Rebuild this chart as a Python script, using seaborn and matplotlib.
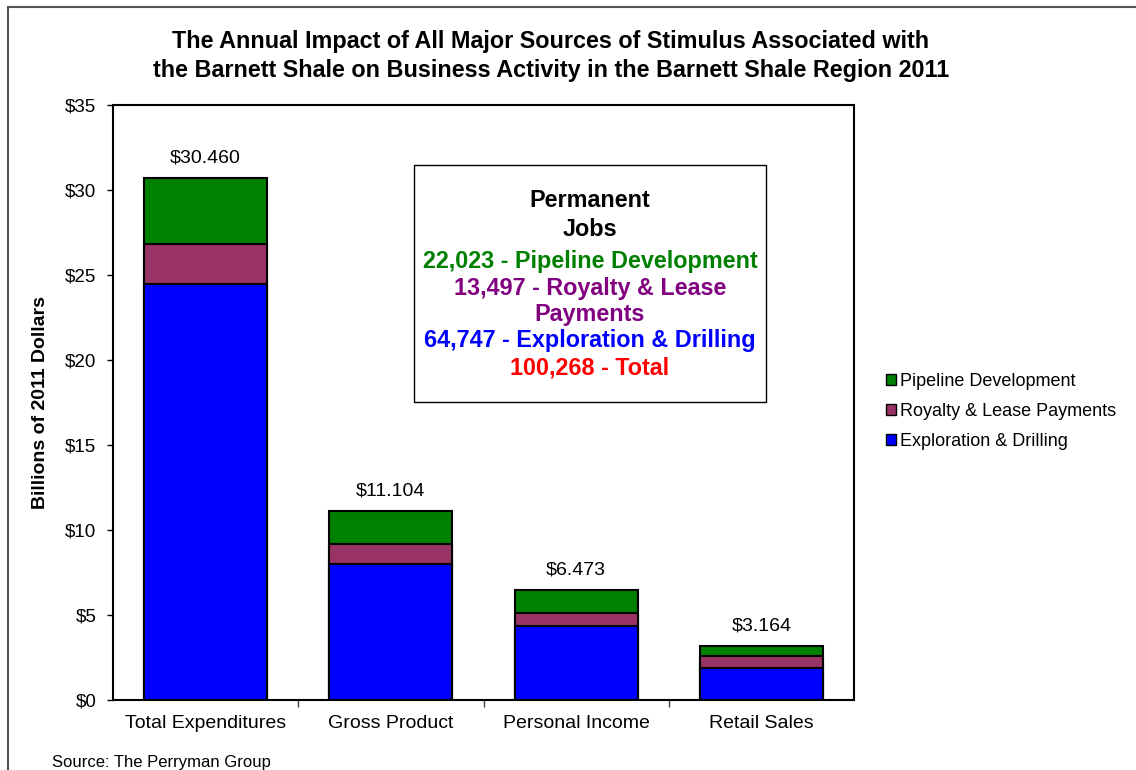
import matplotlib
matplotlib.use("Agg")
import matplotlib.pyplot as plt
import seaborn as sns
import pandas as pd
from matplotlib.patches import Rectangle, Patch
from matplotlib.ticker import FixedLocator, FuncFormatter

# Werte (Milliarden Dollar 2011)
categories = ["Total Expenditures", "Gross Product", "Personal Income", "Retail Sales"]
exploration = [24.45, 8.00, 4.37, 1.86]
royalty = [2.35, 1.18, 0.73, 0.73]
pipeline = [3.92, 1.94, 1.37, 0.59]
total_labels = [30.460, 11.104, 6.473, 3.164]

series_names = ["Pipeline Development", "Royalty & Lease Payments", "Exploration & Drilling"]
series_colors = ["#008000", "#993366", "#0000FF"]

jobs_lines = ["22,023 - Pipeline Development", "13,497 - Royalty & Lease", "Payments",
              "64,747 - Exploration & Drilling", "100,268 - Total"]
jobs_colors = ["#008000", "#800080", "#800080", "#0000FF", "#FF0000"]

df = pd.DataFrame({"category": categories, "exploration": exploration,
                   "royalty": royalty, "pipeline": pipeline})
df["mid"] = df["exploration"] + df["royalty"]
df["top"] = df["mid"] + df["pipeline"]

sns.set_style("white")
plt.rcParams["font.family"] = ["Liberation Sans", "DejaVu Sans"]
plt.rcParams["text.color"] = "black"
plt.rcParams["axes.labelcolor"] = "black"
plt.rcParams["xtick.color"] = "black"
plt.rcParams["ytick.color"] = "black"

fig = plt.figure(figsize=(11.36, 7.70), dpi=100)
ax = fig.add_axes([113 / 1136, 70 / 770, 741 / 1136, 595 / 770])

# gestapelte Balken: von oben nach unten übereinander zeichnen
for col, color in zip(["top", "mid", "exploration"], series_colors):
    sns.barplot(data=df, x="category", y=col, color=color, saturation=1,
                edgecolor="black", linewidth=1.5, width=0.664, ax=ax)

ax.set_ylim(0, 35)
ax.set_xlim(-0.5, len(categories) - 0.5)
ax.yaxis.set_major_locator(FixedLocator(range(0, 36, 5)))
ax.yaxis.set_major_formatter(FuncFormatter(lambda v, p: f"${v:.0f}"))
ax.tick_params(axis="y", left=True, length=4, width=1, pad=8, labelsize=13.5)
ax.set_xticks(range(len(categories)))
ax.set_xticklabels(categories, fontsize=14)
ax.set_xticks([i + 0.5 for i in range(len(categories) - 1)], minor=True)
ax.tick_params(axis="x", which="major", length=0, pad=11)
ax.tick_params(axis="x", which="minor", bottom=True, length=5, width=1, color="#444444")
ax.set_xlabel("")
ax.set_ylabel("Billions of 2011 Dollars", fontsize=14, fontweight="bold")
ax.yaxis.set_label_coords(-0.086, 0.5)
for s in ax.spines.values():
    s.set_color("black")
    s.set_linewidth(1.5)
    s.set_visible(True)

# Summen über den Balken
for i, (h, lab) in enumerate(zip(df["top"], total_labels)):
    ax.annotate(f"${lab:.3f}", (i, h), xytext=(0, 8), textcoords="offset points",
                ha="center", va="bottom", fontsize=14)

# Kasten mit Arbeitsplätzen
def ay(py):
    return (700 - py) / 595

ax.add_patch(Rectangle(((414 - 113) / 741, ay(402)), (766 - 414) / 741, (402 - 165) / 595,
                       transform=ax.transAxes, fill=True, facecolor="white",
                       edgecolor="black", linewidth=1, zorder=5))
cx = (590 - 113) / 741
ax.text(cx, ay(215), "Permanent\nJobs", transform=ax.transAxes, ha="center", va="center",
        fontsize=16.8, fontweight="bold", linespacing=1.3, zorder=6)
for txt, c, py in zip(jobs_lines, jobs_colors, [262, 288, 315, 341, 368]):
    ax.text(cx, ay(py), txt, transform=ax.transAxes, ha="center", va="center",
            fontsize=16.8, fontweight="bold", color=c, zorder=6)

handles = [Patch(facecolor=c, edgecolor="black", linewidth=1) for c in series_colors]
fig.legend(handles, series_names, loc="center left", bbox_to_anchor=(886 / 1136, 1 - 411 / 770),
           frameon=False, fontsize=13, handlelength=0.55, handleheight=0.55,
           handletextpad=0.25, labelspacing=0.72, borderpad=0, borderaxespad=0)

fig.text(551 / 1136, 1 - 56 / 770,
         "The Annual Impact of All Major Sources of Stimulus Associated with\n"
         "the Barnett Shale on Business Activity in the Barnett Shale Region 2011",
         ha="center", va="center", fontsize=16.8, fontweight="bold", linespacing=1.3)
fig.text(52 / 1136, 1 - 763 / 770, "Source: The Perryman Group", ha="left", va="center", fontsize=12)

fig.patches.append(Rectangle((8 / 1136, -0.1), 1.2, 1.1 - 7 / 770, transform=fig.transFigure,
                             fill=False, edgecolor="#555555", linewidth=1.5))

fig.savefig("out.png", dpi=100)
